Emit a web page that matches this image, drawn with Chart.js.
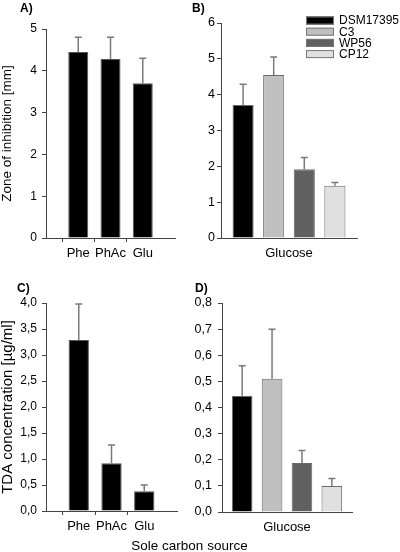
<!DOCTYPE html>
<html>
<head>
<meta charset="utf-8">
<title>Zone of inhibition and TDA concentration</title>
<script src="https://cdn.jsdelivr.net/npm/chart.js@4.4.0/dist/chart.umd.min.js"></script>
<style>
    html, body { margin: 0; padding: 0; background: #fff; }
    body {
        width: 400px; height: 552px; position: relative; overflow: hidden;
        font-family: "Liberation Sans", Arial, sans-serif; color: #000;
    }
    canvas { position: absolute; }
    .tag { position: absolute; font-weight: bold; font-size: 12px; line-height: 12px; }
    #xtitle {
        position: absolute; left: 0; width: 379px; top: 538px;
        font-size: 13.5px; line-height: 16px; text-align: center;
    }
</style>
</head>
<body>
<canvas id="chartA" width="190" height="270" style="left:0;top:0"></canvas>
<canvas id="chartB" width="210" height="270" style="left:190px;top:0"></canvas>
<canvas id="chartC" width="190" height="282" style="left:0;top:270px"></canvas>
<canvas id="chartD" width="210" height="282" style="left:190px;top:270px"></canvas>
<div class="tag" style="left:20px;top:1.5px">A)</div>
<div class="tag" style="left:192px;top:1.5px">B)</div>
<div class="tag" style="left:17px;top:281.5px">C)</div>
<div class="tag" style="left:195px;top:281.5px">D)</div>
<div id="xtitle">Sole carbon source</div>
<script>
// data
var carbonSources = ["Phe", "PhAc", "Glu"];
var zoneBySource = [4.45, 4.28, 3.7];
var zoneBySourceErr = [0.35, 0.52, 0.6];
var tdaBySource = [3.29, 0.92, 0.38];
var tdaBySourceErr = [0.69, 0.35, 0.12];

var strainCategory = ["Glucose"];
var strains = ["DSM17395", "C3", "WP56", "CP12"];
var zoneByStrain = [3.71, 4.55, 1.92, 1.46];
var zoneByStrainErr = [0.58, 0.5, 0.33, 0.09];
var tdaByStrain = [0.445, 0.51, 0.188, 0.10];
var tdaByStrainErr = [0.115, 0.19, 0.047, 0.028];

var strainColors = ["#000000", "#c0c0c0", "#606060", "#e0e0e0"];

Chart.defaults.font.family = "'Liberation Sans', Arial, sans-serif";
Chart.defaults.color = "#000";

var axisColor = "#444";

// empty slot on each side so the three bars sit inside a wider axis
function pad(arr, v) {
    return [v].concat(arr, [v]);
}

// Error bars (upper half only, like the original)
var errorBars = {
    id: "errorBars",
    afterDatasetsDraw: function (chart) {
        var ctx = chart.ctx;
        var yScale = chart.scales.y;
        chart.data.datasets.forEach(function (ds, i) {
            if (!ds.errors) return;
            var meta = chart.getDatasetMeta(i);
            meta.data.forEach(function (bar, j) {
                var v = ds.data[j], e = ds.errors[j];
                if (v == null || e == null) return;
                var x = bar.x;
                var y0 = yScale.getPixelForValue(v);
                var y1 = yScale.getPixelForValue(v + e);
                ctx.save();
                ctx.strokeStyle = "#7a7a7a";
                ctx.lineWidth = 1.5;
                ctx.beginPath();
                ctx.moveTo(x, y0);
                ctx.lineTo(x, y1);
                ctx.moveTo(x - 3.5, y1);
                ctx.lineTo(x + 3.5, y1);
                ctx.stroke();
                ctx.restore();
            });
        });
    }
};

// Legend drawn in the top right corner of panel B
var strainLegend = {
    id: "strainLegend",
    afterDraw: function (chart) {
        var ctx = chart.ctx;
        ctx.save();
        ctx.font = "12px 'Liberation Sans', Arial, sans-serif";
        ctx.textBaseline = "middle";
        chart.data.datasets.forEach(function (ds, i) {
            var top = 16.5 + i * 11.2;
            ctx.fillStyle = ds.backgroundColor;
            ctx.fillRect(116, top, 28, 8);
            ctx.strokeStyle = "#777";
            ctx.lineWidth = 1;
            ctx.strokeRect(116.5, top + 0.5, 27, 7);
            ctx.fillStyle = "#000";
            ctx.fillText(ds.label, 149, top + 4.5);
        });
        ctx.restore();
    }
};

function yAxis(max, step, width, tickPad, fontSize, title, titleSize, fmt) {
    var axis = {
        min: 0,
        max: max,
        ticks: {
            stepSize: step,
            padding: tickPad,
            font: { size: fontSize },
            callback: fmt
        },
        grid: { drawOnChartArea: false, tickLength: 4, tickColor: axisColor },
        border: { color: axisColor },
        afterFit: function (s) { s.width = width; }
    };
    if (title) {
        axis.title = { display: true, text: title, font: { size: titleSize }, padding: { top: -1, bottom: 0 } };
    }
    return axis;
}

function commaFmt(v) {
    return v.toFixed(1).replace(".", ",");
}

function sourceChart(id, values, errors, top, right, xHeight, y) {
    var n = values.length + 2;
    return new Chart(document.getElementById(id), {
        type: "bar",
        data: {
            labels: pad(carbonSources, ""),
            datasets: [{
                data: pad(values, null),
                errors: pad(errors, null),
                backgroundColor: "#000",
                borderColor: "#555",
                borderWidth: 1,
                categoryPercentage: 1,
                barPercentage: 0.62
            }]
        },
        options: {
            responsive: false,
            animation: false,
            layout: { padding: { top: top, right: right, left: 0, bottom: 0 } },
            plugins: { legend: { display: false }, tooltip: { enabled: false } },
            scales: {
                x: {
                    offset: false,
                    grid: {
                        drawOnChartArea: false,
                        tickLength: 4,
                        tickColor: function (c) {
                            return (c.index === 0 || c.index === n - 1) ? "rgba(0,0,0,0)" : axisColor;
                        }
                    },
                    border: { color: axisColor },
                    ticks: { font: { size: 13 }, padding: 4, autoSkip: false, maxRotation: 0 },
                    afterFit: function (s) { s.height = xHeight; }
                },
                y: y
            }
        },
        plugins: [errorBars]
    });
}

function strainChart(id, values, errors, top, right, xHeight, catPct, y) {
    return new Chart(document.getElementById(id), {
        type: "bar",
        data: {
            labels: strainCategory,
            datasets: strains.map(function (s, i) {
                return {
                    label: s,
                    data: [values[i]],
                    errors: [errors[i]],
                    backgroundColor: strainColors[i],
                    borderColor: "#6a6a6a",
                    borderWidth: 1,
                    categoryPercentage: catPct,
                    barPercentage: 0.69
                };
            })
        },
        options: {
            responsive: false,
            animation: false,
            layout: { padding: { top: top, right: right, left: 0, bottom: 0 } },
            plugins: { legend: { display: false }, tooltip: { enabled: false } },
            scales: {
                x: {
                    grid: { drawOnChartArea: false, drawTicks: false },
                    border: { color: axisColor },
                    ticks: { font: { size: 13 }, padding: 8, maxRotation: 0 },
                    afterFit: function (s) { s.height = xHeight; }
                },
                y: y
            }
        },
        plugins: [errorBars]
    });
}

// A) zone of inhibition per carbon source
sourceChart("chartA", zoneBySource, zoneBySourceErr, 29, 15, 32,
    yAxis(5, 1, 46, 5, 12, "Zone of inhibition [mm]", 13.5));

// B) zone of inhibition per strain on glucose
var chartB = strainChart("chartB", zoneByStrain, zoneByStrainErr, 23, 43, 32, 0.9,
    yAxis(6, 1, 31, 2, 12.5));
chartB.config.plugins.push(strainLegend);
chartB.update();

// C) TDA concentration per carbon source
sourceChart("chartC", tdaBySource, tdaBySourceErr, 33, 13, 41,
    yAxis(4, 0.5, 46, 5, 12, "TDA concentration [µg/ml]", 15, commaFmt));

// D) TDA concentration per strain on glucose
strainChart("chartD", tdaByStrain, tdaByStrainErr, 33, 48, 40, 0.92,
    yAxis(0.8, 0.1, 32, 6, 12.5, null, 0, commaFmt));
</script>
</body>
</html>
